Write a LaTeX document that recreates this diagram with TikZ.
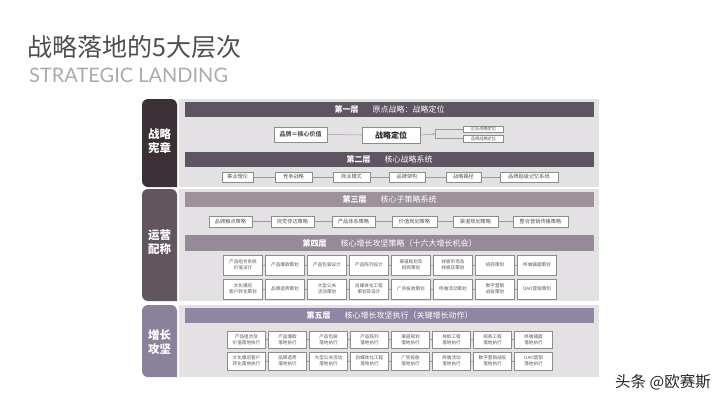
\documentclass[tikz,border=0pt]{standalone}
\usepackage{fontspec}
\setmainfont{Noto Sans CJK SC}
\newfontfamily\latfont{Lato}
\usetikzlibrary{arrows.meta}
\definecolor{titlegray}{HTML}{4F4F4F}
\definecolor{subgray}{HTML}{ABABAB}
\definecolor{panelA}{HTML}{3B3036}
\definecolor{panelB}{HTML}{62565E}
\definecolor{panelC}{HTML}{8A829A}
\definecolor{rightbg}{HTML}{E3E1E3}
\definecolor{barA}{HTML}{5E5462}
\definecolor{barC}{HTML}{9E929A}
\definecolor{barD}{HTML}{968A98}
\definecolor{barE}{HTML}{8E86A3}
\definecolor{boxline}{HTML}{8C8C8C}
\definecolor{boxtext}{HTML}{555555}
\definecolor{conn}{HTML}{9A9A9A}
\tikzset{
  sbox/.style={draw=boxline, fill=white, line width=0.5pt, text=boxtext, inner sep=0pt, align=center, font=\fontsize{5.2}{6}\selectfont},
  gbox/.style={sbox, minimum width=39pt, minimum height=20pt, font=\fontsize{4.6}{6}\selectfont},
  ebox/.style={sbox, minimum width=38pt, minimum height=17pt, font=\fontsize{4.6}{6}\selectfont},
  bar/.style={inner sep=0pt, minimum width=409pt, text=white, font=\fontsize{8}{9}\selectfont},
  sidelabel/.style={text=white, align=center, font=\fontsize{11.5}{13.5}\selectfont\bfseries},
  link/.style={draw=conn, line width=0.5pt},
}
\begin{document}
\begin{tikzpicture}[x=1pt,y=-1pt]
\useasboundingbox (0,0) rectangle (720,405);
\fill[white] (0,0) rectangle (720,405);

% title
\node[anchor=west, inner sep=0pt, text=titlegray, font=\fontsize{25}{28}\selectfont] (title) at (27,47) {战略落地的5大层次};
\node[anchor=west, inner sep=0pt, text=subgray, font=\latfont\fontsize{20}{22}\selectfont] (subtitle) at (29,75) {STRATEGIC LANDING};

% left panels
\fill[panelA, rounded corners=6pt] (177,187) -- (142,187) -- (142,99) -- (177,99) [sharp corners] -- cycle;
\fill[panelB, rounded corners=6pt] (177,301) -- (142,301) -- (142,189) -- (177,189) [sharp corners] -- cycle;
\fill[panelC, rounded corners=6pt] (177,377) -- (142,377) -- (142,305) -- (177,305) [sharp corners] -- cycle;
\node[sidelabel] (s1) at (159.5,141) {战略\\宪章};
\node[sidelabel] (s2) at (159.5,242) {运营\\配称};
\node[sidelabel] (s3) at (159.5,342) {增长\\攻坚};

% right panels
\fill[rightbg] (179,99) rectangle (599,187);
\fill[rightbg] (179,189) rectangle (599,301);
\fill[rightbg] (179,305) rectangle (599,377);

% header bars
\node[bar, fill=barA, minimum height=15pt] (h1) at (389.5,109.5) {\textbf{第一层}\hspace{14pt}原点战略：战略定位};
\node[bar, fill=barA, minimum height=15pt] (h2) at (389.5,159.5) {\textbf{第二层}\hspace{14pt}核心战略系统};
\node[bar, fill=barC, minimum height=15pt] (h3) at (389.5,199.5) {\textbf{第三层}\hspace{14pt}核心子策略系统};
\node[bar, fill=barD, minimum height=16pt] (h4) at (389.5,243) {\textbf{第四层}\hspace{14pt}核心增长攻坚策略（十六大增长机会）};
\node[bar, fill=barE, minimum height=15pt] (h5) at (389.5,315.5) {\textbf{第五层}\hspace{14pt}核心增长攻坚执行（关键增长动作）};

% layer 1
\node[sbox, minimum width=53pt, minimum height=15pt, font=\fontsize{6}{7}\selectfont\bfseries] (a1) at (300.5,134.5) {品牌＝核心价值};
\node[sbox, minimum width=58pt, minimum height=16pt, text=black!85, font=\fontsize{8}{9}\selectfont\bfseries] (a2) at (391,135) {战略定位};
\node[sbox, minimum width=40pt, minimum height=6.5pt, font=\fontsize{4.2}{5}\selectfont] (a3) at (483.5,129) {企业战略定位};
\node[sbox, minimum width=40pt, minimum height=7pt, font=\fontsize{4.2}{5}\selectfont] (a4) at (483.5,138.5) {品牌战略定位};
\coordinate (br) at (435,134);
\draw[link] (a1.east) -- (a2.west);
\draw[link, -{Stealth[length=2.5pt,width=2pt]}] (a2.east) -- (br);
\draw[link] (a3.west) -- (a3.west -| br) -- (a4.west -| br) -- (a4.west);

% layer 2
\node[sbox, minimum width=31pt, minimum height=10pt] (b1) at (237.5,177) {事业理论};
\node[sbox, minimum width=37pt, minimum height=10pt] (b2) at (293.5,177) {竞争战略};
\node[sbox, minimum width=37pt, minimum height=10pt] (b3) at (351.5,177) {商业模式};
\node[sbox, minimum width=36pt, minimum height=10pt] (b4) at (407,177) {品牌架构};
\node[sbox, minimum width=35pt, minimum height=10pt] (b5) at (463.5,177) {战略路径};
\node[sbox, minimum width=58pt, minimum height=10pt] (b6) at (529,177) {品牌超级记忆系统};
\foreach \i/\j in {1/2,2/3,3/4,4/5,5/6} \draw[link] (b\i.east) -- (b\j.west);

% layer 3
\node[sbox, minimum width=43pt, minimum height=11pt] (c1) at (230.5,221.5) {品牌触点策略};
\node[sbox, minimum width=43pt, minimum height=11pt] (c2) at (292.5,221.5) {视觉传达策略};
\node[sbox, minimum width=43pt, minimum height=11pt] (c3) at (353.5,221.5) {产品体系策略};
\node[sbox, minimum width=45pt, minimum height=11pt] (c4) at (414.5,221.5) {价值规划策略};
\node[sbox, minimum width=45pt, minimum height=11pt] (c5) at (475.5,221.5) {渠道规划策略};
\node[sbox, minimum width=55pt, minimum height=11pt] (c6) at (540.5,221.5) {整合营销传播策略};
\foreach \i/\j in {1/2,2/3,3/4,4/5,5/6} \draw[link] (c\i.east) -- (c\j.west);

% layer 4
\foreach \t [count=\i] in {{产品组合系统\\价值设计},{产品爆款策划},{产品包装设计},{产品陈列设计},{渠道规划及\\招商策划},{样板市场及\\样板店策划},{招商策划},{终端铺面策划}}
  \node[gbox] (d\i) at ({243+42*(\i-1)},265) {\t};
\foreach \t [count=\i] in {{文化爆店\\客户转化策划},{品牌造势策划},{大型公关\\活动策划},{自媒体化工程\\策划及设计},{广告投放策划},{终端活动策划},{数字营销\\战役策划},{OAO营销策划}}
  \node[gbox] (e\i) at ({243+42*(\i-1)},289) {\t};
\foreach \i/\j in {1/2,2/3,3/4,4/5,5/6,6/7,7/8} {
  \draw[link] (d\i.east) -- (d\j.west);
  \draw[link] (e\i.east) -- (e\j.west);
}

% layer 5
\foreach \t [count=\i] in {{产品组合及\\价值落地执行},{产品爆款\\落地执行},{产品包装\\落地执行},{产品陈列\\落地执行},{渠道规划\\落地执行},{样板工程\\落地执行},{招商工程\\落地执行},{终端铺面\\落地执行}}
  \node[ebox] (f\i) at ({246.5+41*(\i-1)},339.5) {\t};
\foreach \t [count=\i] in {{文化爆店客户\\转化落地执行},{品牌造势\\落地执行},{大型公关活动\\落地执行},{自媒体化工程\\落地执行},{广告投放\\落地执行},{终端活动\\落地执行},{数字营销战役\\落地执行},{OAO营销\\落地执行}}
  \node[ebox, minimum height=18pt] (g\i) at ({246.5+41*(\i-1)},361) {\t};
\foreach \i/\j in {1/2,2/3,3/4,4/5,5/6,6/7,7/8} {
  \draw[link] (f\i.east) -- (f\j.west);
  \draw[link] (g\i.east) -- (g\j.west);
}

% watermark
\node[anchor=east, inner sep=0pt, text=black!85, font=\fontsize{15.5}{17}\selectfont] (wm) at (711,382) {头条 @欧赛斯};
\end{tikzpicture}
\end{document}
